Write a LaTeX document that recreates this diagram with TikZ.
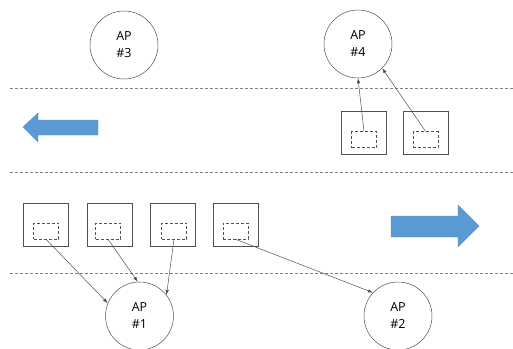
\documentclass[tikz,border=0pt]{standalone}
\usepackage{fontspec}
\setmainfont{Open Sans}
\usepackage{tikz}
\usetikzlibrary{arrows.meta,positioning}
\definecolor{laneblue}{RGB}{91,155,213}
\definecolor{linegray}{RGB}{80,80,80}

\begin{document}
\begin{tikzpicture}[x=1pt,y=-1pt,
    ap/.style={circle, draw=linegray, line width=0.5pt, minimum size=68pt, inner sep=0pt, align=center,
      font=\fontsize{12.5}{17}\selectfont},
    car/.style={rectangle, draw=linegray, line width=0.6pt, minimum width=45pt, minimum height=43pt, inner sep=0pt},
    obu/.style={rectangle, draw=linegray, densely dashed, line width=0.5pt, minimum width=25pt, minimum height=16pt, inner sep=0pt},
    lane/.style={gray, dash pattern=on 3pt off 2pt, line width=0.5pt},
    link/.style={-{Latex[length=5pt,width=3.5pt]}, linegray, line width=0.5pt},
    dir/.style={fill=laneblue, draw=laneblue!90!black, line width=0.3pt}
]
    \useasboundingbox (0,0) rectangle (513,348);
    \clip (0,0) rectangle (513,348);

    % access points
    \node[ap] (ap3) at (124,45) {AP\\\#3};
    \node[ap] (ap4) at (358,44) {AP\\\#4};
    \node[ap] (ap1) at (139.5,316) {AP\\\#1};
    \node[ap] (ap2) at (398,316) {AP\\\#2};

    % road markings
    \coordinate (l1a) at (10,88);  \coordinate (l1b) at (513,88);
    \coordinate (l2a) at (10,172); \coordinate (l2b) at (513,172);
    \coordinate (l3a) at (10,273); \coordinate (l3b) at (513,273);
    \draw[lane] (l1a) -- (l1b);
    \draw[lane] (l2a) -- (l2b);
    \draw[lane] (l3a) -- (l3b);

    % driving directions
    \draw[dir] (23,127) -- (38,113) -- (38,120) -- (98,120) -- (98,135) -- (38,135) -- (38,142) -- cycle;
    \draw[dir] (479,226) -- (458,205) -- (458,216) -- (391,216) -- (391,237) -- (458,237) -- (458,247) -- cycle;

    % upper lane vehicles
    \node[car] (car5) at (363.5,133) {};
    \node[car] (car6) at (426,133) {};
    \node[obu] (obu5) at (364,139.5) {};
    \node[obu] (obu6) at (425.5,139.5) {};

    % lower lane vehicles
    \node[car] (car1) at (46,225) {};
    \node[car] (car2) at (110,225) {};
    \node[car] (car3) at (172.5,225) {};
    \node[car] (car4) at (236,225) {};
    \node[obu] (obu1) at (46,231) {};
    \node[obu] (obu2) at (108,231) {};
    \node[obu] (obu3) at (174,231) {};
    \node[obu] (obu4) at (235.5,231) {};

    % associations
    \draw[link] (obu1.south) -- (ap1.158);
    \draw[link] (obu2.south) -- (ap1.93);
    \draw[link] (obu3.south) -- (ap1.38);
    \draw[link] (obu4.south) -- (ap2.137);
    \draw[link] (obu5.north) -- (ap4.south);
    \draw[link] (obu6.north) -- (ap4.-45);
\end{tikzpicture}
\end{document}
